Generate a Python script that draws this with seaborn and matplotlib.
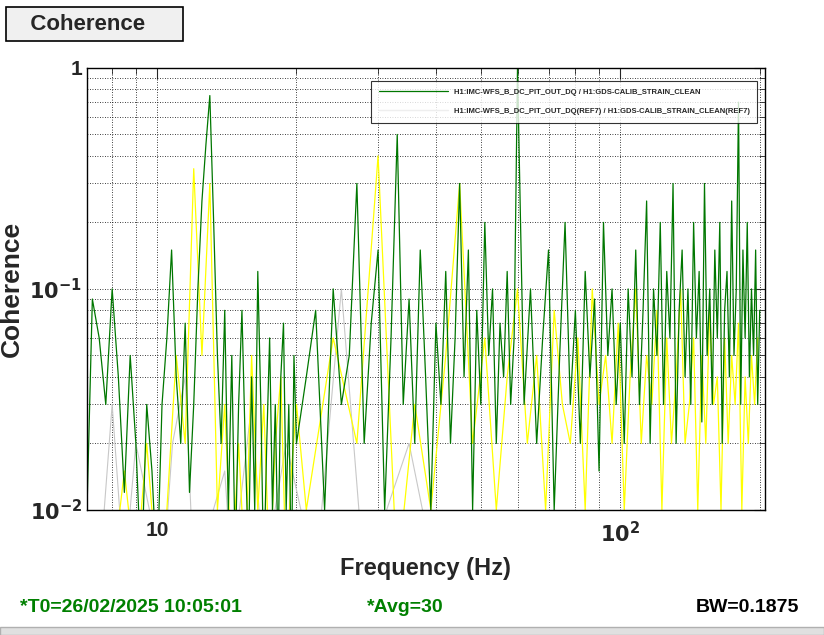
import numpy as np
import pandas as pd
import matplotlib
matplotlib.use("Agg")
import matplotlib.pyplot as plt
import seaborn as sns

sns.set_style("white")
plt.rcParams['font.family'] = ['Liberation Sans', 'DejaVu Sans']
plt.rcParams['mathtext.default'] = 'bf'

green_f = list(np.arange(7.0, 20.01, 0.25)) + list(range(21, 61)) + list(range(62, 201, 2))
green_c = [0.005,0.09,0.06,0.03,0.1,0.04,0.012,0.05,0.02,0.005,0.03,0.015,0.005,0.03,0.06,0.15,0.04,0.02,0.07,0.012,
           0.03,0.1,0.25,0.45,0.75,0.2,0.05,0.02,0.08,0.01,0.05,0.006,0.03,0.08,0.02,0.006,0.04,0.01,0.12,0.03,
           0.005,0.02,0.06,0.01,0.03,0.006,0.04,0.07,0.01,0.03,0.005,0.05,0.02,
           0.04,0.08,0.01,0.1,0.03,0.05,0.3,0.02,0.07,0.15,0.01,0.06,0.5,0.03,0.09,0.02,0.15,0.04,0.01,0.07,
           0.03,0.12,0.02,0.06,0.3,0.04,0.15,0.01,0.08,0.03,0.2,0.05,0.1,0.02,0.07,0.04,0.12,0.03,0.06,1.0,
           0.03,0.1,0.02,0.06,0.15,0.01,0.05,0.2,0.03,0.08,0.02,0.12,0.04,0.09,0.015,0.2,0.05,0.1,0.03,0.07,
           0.02,0.1,0.04,0.15,0.03,0.08,0.25,0.02,0.1,0.05,0.2,0.03,0.12,0.06,0.3,0.02,0.08,0.15,0.04,0.1,
           0.03,0.2,0.06,0.12,0.025,0.3,0.05,0.1,0.03,0.15,0.06,0.2,0.02,0.08,0.12,0.04,0.25,0.05,0.1,0.7,
           0.03,0.15,0.06,0.2,0.04,0.1,0.05,0.15,0.03,0.08]

yellow_f = list(np.arange(7.0, 20.01, 0.5)) + list(range(21, 200, 3))
yellow_c = [0.005,0.005,0.005,0.015,0.005,0.02,0.005,0.01,0.05,0.02,0.35,0.05,0.3,0.01,0.03,0.005,0.02,0.005,
            0.05,0.01,0.03,0.005,0.02,0.04,0.005,0.015,0.03,
            0.01,0.06,0.02,0.4,0.005,0.03,0.01,0.05,0.3,0.02,0.06,0.01,0.04,0.1,0.02,0.05,0.01,0.08,0.03,0.02,
            0.06,0.01,0.1,0.03,0.05,0.02,0.07,0.01,0.04,0.1,0.02,0.05,0.03,0.08,0.01,0.06,0.02,0.04,0.1,0.02,
            0.03,0.06,0.01,0.05,0.02,0.08,0.03,0.04,0.01,0.06,0.02,0.05,0.03,0.07,0.01,0.04,0.02,0.05,0.03,0.06]

grey_f = [7.5, 8.0, 8.5, 9.0, 10.3, 10.8, 11.5, 12.0, 14.0, 14.5, 16.0, 17.0, 19.0, 22.0, 25.0, 28.0, 35.0, 40.0, 50.0]
grey_c = [0.005, 0.03, 0.005, 0.02, 0.005, 0.02, 0.04, 0.005, 0.015, 0.005, 0.03, 0.005, 0.02, 0.005, 0.1, 0.005, 0.02, 0.005, 0.01]

x_ticks = [10, 100]
x_labels = ["10", "$10^{2}$"]
y_ticks = [0.01, 0.1, 1]
y_labels = ["$10^{-2}$", "$10^{-1}$", "1"]

n = min(len(yellow_f), len(yellow_c))
dfs = [
    pd.DataFrame({"f": green_f[:len(green_c)], "c": green_c[:len(green_f)], "s": "g"}),
    pd.DataFrame({"f": yellow_f[:n], "c": yellow_c[:n], "s": "y"}),
    pd.DataFrame({"f": grey_f, "c": grey_c, "s": "k"}),
]

fig = plt.figure(figsize=(8.24, 6.35), dpi=100)
fig.patch.set_facecolor("white")
ax = fig.add_axes([0.1056, 0.197, 0.8224, 0.696])

sns.lineplot(data=dfs[2], x="f", y="c", ax=ax, color="#c8c8c8", lw=0.8, estimator=None, sort=True, label="_nolegend_")
sns.lineplot(data=dfs[1], x="f", y="c", ax=ax, color="#ffff00", lw=0.9, estimator=None, sort=True, label="_nolegend_")
sns.lineplot(data=dfs[0], x="f", y="c", ax=ax, color="#007700", lw=0.9, estimator=None, sort=True,
             label="H1:IMC-WFS_B_DC_PIT_OUT_DQ / H1:GDS-CALIB_STRAIN_CLEAN")
ax.plot([], [], color="#eeeeee", lw=1, label="H1:IMC-WFS_B_DC_PIT_OUT_DQ(REF7) / H1:GDS-CALIB_STRAIN_CLEAN(REF7)")

ax.set_xscale("log"); ax.set_yscale("log")
ax.set_xlim(7.06, 205); ax.set_ylim(0.01, 1)
ax.set_xticks(x_ticks); ax.set_xticklabels(x_labels)
ax.set_yticks(y_ticks); ax.set_yticklabels(y_labels)
ax.grid(True, which="both", color="black", ls=(0, (1, 2)), lw=0.6)
ax.tick_params(axis="both", which="major", labelsize=15, length=8, direction="in", top=True, right=True)
ax.tick_params(axis="both", which="minor", length=4, direction="in", top=True, right=True)
ax.tick_params(axis="x", which="major", pad=8)
for l in ax.get_xticklabels() + ax.get_yticklabels():
    l.set_fontweight("bold")
for s in ax.spines.values():
    s.set_color("black"); s.set_linewidth(1)
ax.set_xlabel("Frequency (Hz)", fontsize=17, fontweight="bold", labelpad=8)
ax.set_ylabel("Coherence", fontsize=19, fontweight="bold", labelpad=4)

leg = ax.legend(loc="upper right", bbox_to_anchor=(0.995, 0.98), fontsize=5.5, frameon=True, fancybox=False,
                edgecolor="black", handlelength=9, borderpad=1.0, labelspacing=1.6)
leg.get_frame().set_linewidth(0.8)
leg.get_frame().set_facecolor("white")
for t in leg.get_texts():
    t.set_fontweight("bold")

fig.text(0.015, 0.962, "   Coherence     ", fontsize=16, fontweight="bold", va="center",
         bbox=dict(boxstyle="square,pad=0.3", fc="#f0f0f0", ec="black", lw=1.2))
fig.text(0.024, 0.043, "*T0=26/02/2025 10:05:01", color="#008000", fontsize=14, fontweight="bold", va="center")
fig.text(0.445, 0.043, "*Avg=30", color="#008000", fontsize=14, fontweight="bold", va="center")
fig.text(0.97, 0.043, "BW=0.1875", color="black", fontsize=14, fontweight="bold", va="center", ha="right")
fig.add_artist(plt.Rectangle((0, 0), 1, 0.012, transform=fig.transFigure, fc="#e0e0e0", ec="#b0b0b0"))

fig.savefig("out.png", dpi=100)
